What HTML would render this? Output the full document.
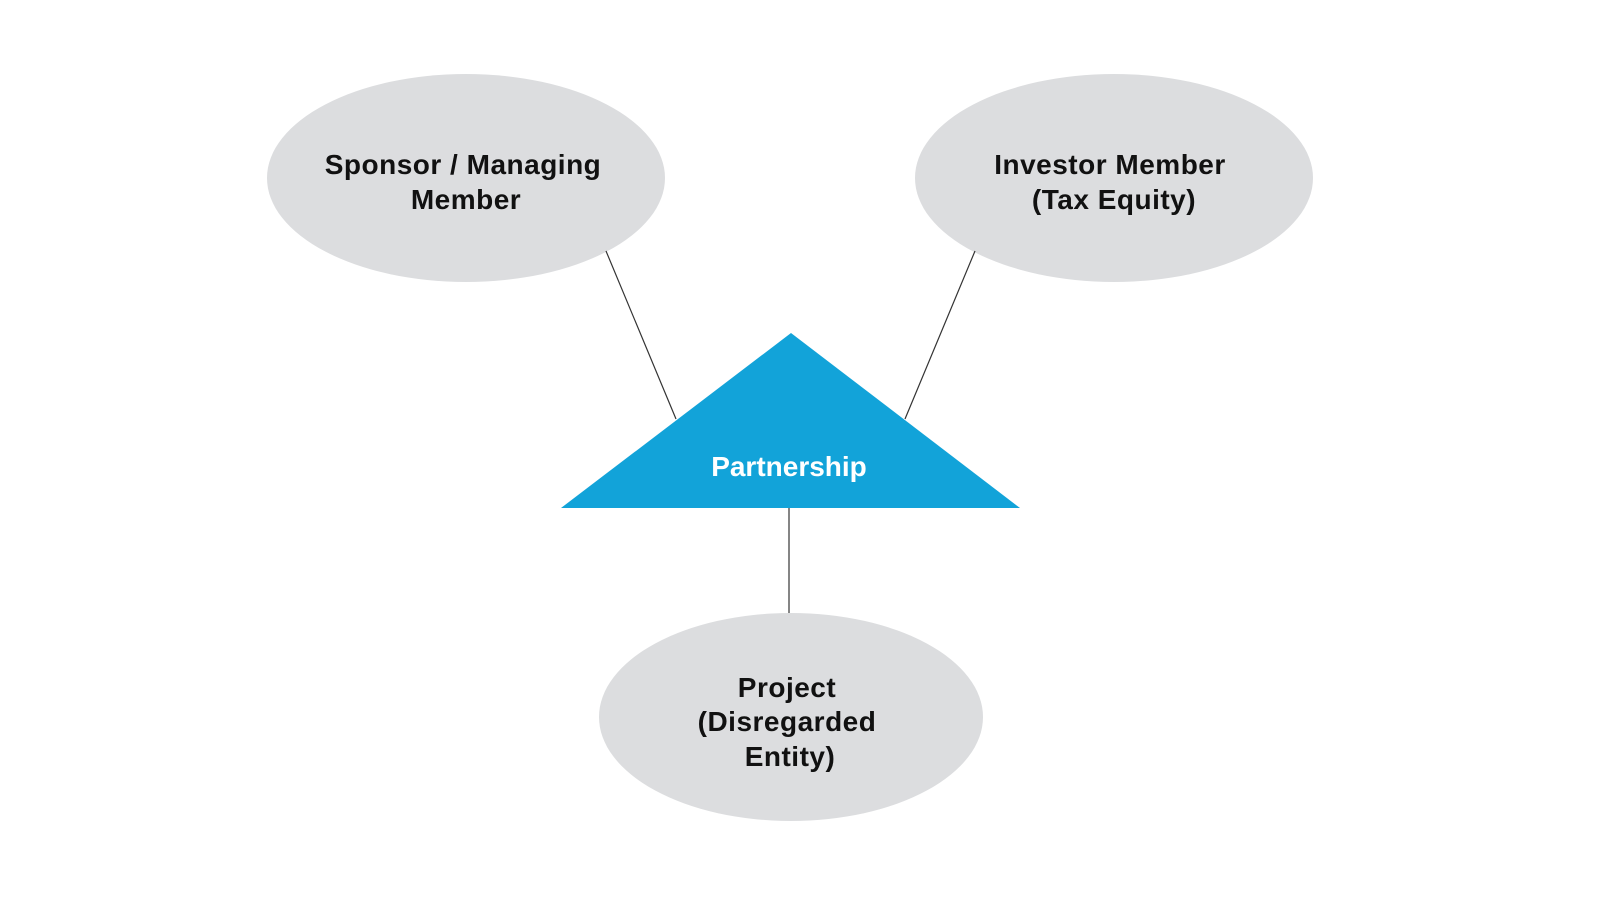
<!DOCTYPE html>
<html><head><meta charset="utf-8"><style>
html,body{margin:0;padding:0;background:#fff;}
svg{display:block;}
text{font-family:"Liberation Sans",Arial,sans-serif;font-weight:bold;font-size:28px;text-anchor:middle;}
.d{letter-spacing:0.5px;}
</style></head><body>
<svg width="1600" height="900" viewBox="0 0 1600 900" xmlns="http://www.w3.org/2000/svg">
<rect width="1600" height="900" fill="#fff"/>
<ellipse cx="466" cy="178" rx="199" ry="104" fill="#dcdddf"/>
<ellipse cx="1114" cy="178" rx="199" ry="104" fill="#dcdddf"/>
<ellipse cx="791" cy="717" rx="192" ry="104" fill="#dcdddf"/>
<line x1="606" y1="251" x2="676" y2="419" stroke="#333" stroke-width="1.2"/>
<line x1="975" y1="251" x2="905" y2="419" stroke="#333" stroke-width="1.2"/>
<line x1="789" y1="508" x2="789" y2="613" stroke="#333" stroke-width="1.2"/>
<polygon points="791,333 1020,508 561,508" fill="#12a3d9"/>
<text class="d" x="463" y="174" fill="#111">Sponsor / Managing</text>
<text class="d" x="466" y="209" fill="#111">Member</text>
<text class="d" x="1110" y="174" fill="#111">Investor Member</text>
<text class="d" x="1114" y="209" fill="#111">(Tax Equity)</text>
<text class="d" x="787" y="697" fill="#111">Project</text>
<text class="d" x="787" y="731" fill="#111">(Disregarded</text>
<text class="d" x="790" y="766" fill="#111">Entity)</text>
<text x="789" y="476" fill="#fff">Partnership</text>
</svg>
</body></html>
